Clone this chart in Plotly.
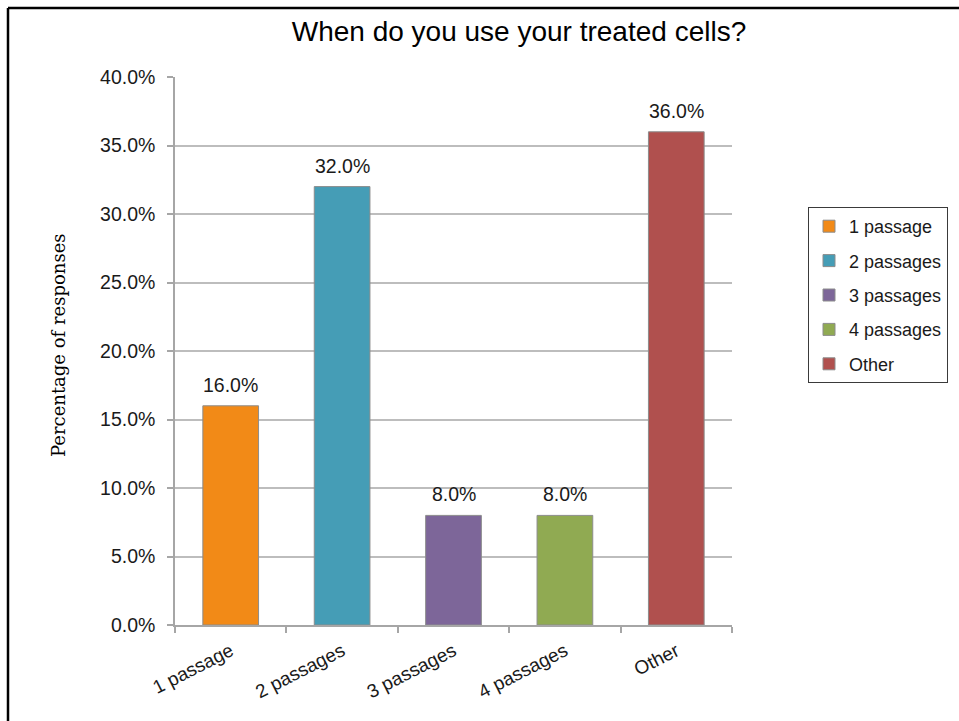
import plotly.graph_objects as go

categories = ["1 passage", "2 passages", "3 passages", "4 passages", "Other"]
values = [0.16, 0.32, 0.08, 0.08, 0.36]
colors = ["#F28A17", "#459DB6", "#7D6699", "#90AA52", "#B0504E"]
y_ticks = [0, 0.05, 0.10, 0.15, 0.20, 0.25, 0.30, 0.35, 0.40]

W, H = 959, 721
L, R, T, B = 175, 227, 77, 96
pw, ph = W - L - R, H - T - B

def px_x(x):
    return (x - L) / pw

def px_y(y):
    return (H - B - y) / ph

font_sans = "Liberation Sans, Arial, sans-serif"

fig = go.Figure()
for cat, val, col in zip(categories, values, colors):
    fig.add_trace(go.Bar(
        x=[cat], y=[val], name=cat, legendgroup=cat,
        marker=dict(color=col, line=dict(color="#8C8C8C", width=1)),
    ))
    fig.add_annotation(
        x=cat, y=val, xref="x", yref="y", text=f"{val*100:.1f}%",
        showarrow=False, yanchor="bottom", xanchor="center", yshift=8,
        font=dict(family=font_sans, size=19.5, color="#1a1a1a"),
    )

fig.update_layout(
    width=W, height=H,
    margin=dict(l=L, r=R, t=T, b=B, autoexpand=False),
    paper_bgcolor="white", plot_bgcolor="white",
    barmode="overlay", bargap=0.5,
    title=dict(text="When do you use your treated cells?", x=519 / W, xanchor="center",
               y=1 - 31 / H, yanchor="middle", xref="container", yref="container",
               font=dict(family=font_sans, size=28, color="#000000")),
    legend=dict(x=px_x(808), y=px_y(207), xanchor="left", yanchor="top",
                bordercolor="#3a3a3a", borderwidth=1, bgcolor="white",
                font=dict(family=font_sans, size=18, color="#1a1a1a"),
                tracegroupgap=8, itemwidth=30),
    showlegend=True,
    font=dict(family=font_sans, size=19, color="#1a1a1a"),
)

fig.update_yaxes(
    range=[0, 0.4], tickvals=y_ticks, tickformat=".1%",
    showgrid=True, gridcolor="#BDBDBD", gridwidth=1.5,
    showline=True, linecolor="#A6A6A6", linewidth=1.5,
    ticks="outside", ticklen=6, tickcolor="#A6A6A6", tickwidth=1.5,
    ticklabelstandoff=8, zeroline=False,
    tickfont=dict(family=font_sans, size=19.5, color="#1a1a1a"),
)
fig.update_xaxes(
    categoryorder="array", categoryarray=categories,
    showline=True, linecolor="#A6A6A6", linewidth=1.5,
    ticks="outside", ticklen=6, tickcolor="#A6A6A6", tickwidth=1.5,
    tickson="boundaries", tickangle=-27, showgrid=False,
    ticklabelstandoff=6,
    tickfont=dict(family=font_sans, size=19, color="#1a1a1a"),
)

fig.add_annotation(
    text="Percentage of responses", textangle=-90,
    x=px_x(58), y=px_y(345), xref="paper", yref="paper",
    xanchor="center", yanchor="middle", showarrow=False,
    font=dict(family="DejaVu Serif, serif", size=18, color="#000000"),
)

# outer frame (top and left edges visible)
fig.add_shape(type="line", xref="paper", yref="paper",
              x0=px_x(8), x1=px_x(W + 5), y0=px_y(8), y1=px_y(8),
              line=dict(color="black", width=2.5))
fig.add_shape(type="line", xref="paper", yref="paper",
              x0=px_x(8), x1=px_x(8), y0=px_y(8), y1=px_y(H + 5),
              line=dict(color="black", width=2.5))

fig.write_html("out.html")
